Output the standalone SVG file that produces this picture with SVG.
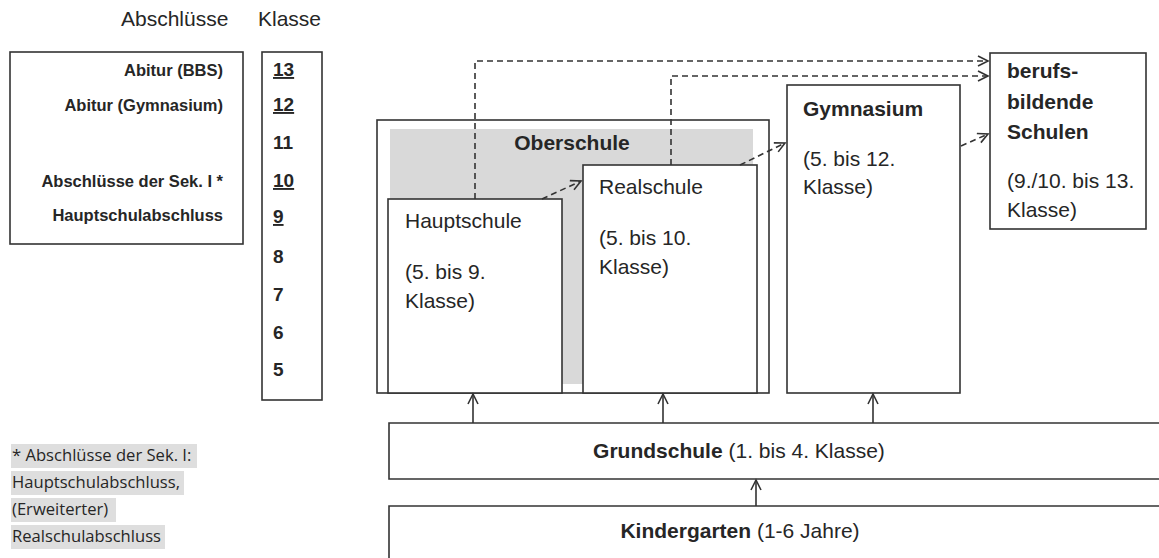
<svg xmlns="http://www.w3.org/2000/svg" width="1159" height="558" viewBox="0 0 1159 558">
<style>
text{font-family:"Liberation Sans",Arial,sans-serif;fill:#262626}
.box{fill:#fff;stroke:#333;stroke-width:1.6}
.r{font-size:21px}
.b{font-size:21px;font-weight:bold}
.lbl{font-size:16.5px;font-weight:bold;text-anchor:end}
.num{font-size:19px;font-weight:bold}
.u{text-decoration:underline}
.fn{font-family:"Open Sans","Noto Sans",sans-serif;font-size:16.6px}
.hl{fill:#dedede}
.dash{fill:none;stroke:#333;stroke-width:1.6;stroke-dasharray:6 4}
.solid{fill:none;stroke:#333;stroke-width:1.6}
</style>
<defs>
<marker id="ah" markerUnits="userSpaceOnUse" markerWidth="14" markerHeight="14" refX="11" refY="6" orient="auto">
<path d="M1,1 L11,6 L1,11" fill="none" stroke="#333" stroke-width="1.6"/>
</marker>
</defs>

<g id="headers">
<text class="r" x="121" y="26">Abschlüsse</text>
<text class="r" x="258" y="26">Klasse</text>
</g>

<g id="abschluesse">
<rect class="box" x="10" y="52" width="233" height="192"/>
<text class="lbl" x="223" y="76">Abitur (BBS)</text>
<text class="lbl" x="223" y="111">Abitur (Gymnasium)</text>
<text class="lbl" x="223" y="187">Abschlüsse der Sek. I *</text>
<text class="lbl" x="223" y="221">Hauptschulabschluss</text>
</g>

<g id="klassen">
<rect class="box" x="262" y="52" width="60" height="348"/>
<text class="num u" x="273" y="76">13</text>
<text class="num u" x="273" y="111">12</text>
<text class="num" x="273" y="149">11</text>
<text class="num u" x="273" y="187">10</text>
<text class="num u" x="273" y="223">9</text>
<text class="num" x="273" y="263">8</text>
<text class="num" x="273" y="301">7</text>
<text class="num" x="273" y="339">6</text>
<text class="num" x="273" y="376">5</text>
</g>

<g id="footnote">
<rect class="hl" x="11" y="444" width="186" height="24"/>
<rect class="hl" x="11" y="471" width="173" height="24"/>
<rect class="hl" x="11" y="498" width="105" height="24"/>
<rect class="hl" x="11" y="525" width="154" height="24"/>
<text class="fn" x="12" y="461">* Abschlüsse der Sek. I:</text>
<text class="fn" x="12" y="488">Hauptschulabschluss,</text>
<text class="fn" x="12" y="515">(Erweiterter)</text>
<text class="fn" x="12" y="542">Realschulabschluss</text>
</g>

<g id="oberschule">
<rect class="box" x="377" y="120" width="392" height="273"/>
<rect x="390" y="129" width="363" height="255" fill="#d9d9d9"/>
<text class="b" x="572" y="150" text-anchor="middle" font-size="20">Oberschule</text>
</g>

<g id="hauptschule">
<rect class="box" x="388" y="199" width="174" height="194"/>
<text class="r" x="405" y="228">Hauptschule</text>
<text class="r" x="405" y="279">(5. bis 9.</text>
<text class="r" x="405" y="308">Klasse)</text>
</g>

<g id="realschule">
<rect class="box" x="583" y="165" width="174" height="228"/>
<text class="r" x="599" y="194">Realschule</text>
<text class="r" x="599" y="245">(5. bis 10.</text>
<text class="r" x="599" y="274">Klasse)</text>
</g>

<g id="gymnasium">
<rect class="box" x="787" y="85" width="173" height="308"/>
<text class="b" x="803" y="116">Gymnasium</text>
<text class="r" x="803" y="166">(5. bis 12.</text>
<text class="r" x="803" y="194">Klasse)</text>
</g>

<g id="bbs">
<rect class="box" x="990" y="53" width="156" height="176"/>
<text class="b" x="1007" y="78">berufs-</text>
<text class="b" x="1007" y="109">bildende</text>
<text class="b" x="1007" y="139">Schulen</text>
<text class="r" x="1007" y="188">(9./10. bis 13.</text>
<text class="r" x="1007" y="217">Klasse)</text>
</g>

<g id="grundschule">
<path class="box" d="M1160,423 H389 V479 H1160"/>
<text class="r" x="739" y="458" text-anchor="middle"><tspan font-weight="bold">Grundschule</tspan> (1. bis 4. Klasse)</text>
</g>

<g id="kindergarten">
<path class="box" d="M1160,506 H389 V560"/>
<text class="r" x="740" y="538" text-anchor="middle"><tspan font-weight="bold">Kindergarten</tspan> (1-6 Jahre)</text>
</g>

<g id="connectors">
<path class="dash" d="M475,199 V61 H988" marker-end="url(#ah)"/>
<path class="dash" d="M671,165 V76 H988" marker-end="url(#ah)"/>
<path class="dash" d="M542,199 L581,181" marker-end="url(#ah)"/>
<path class="dash" d="M740,165 L785,143" marker-end="url(#ah)"/>
<path class="dash" d="M961,146 L988,134" marker-end="url(#ah)"/>
<path class="solid" d="M473,423 V394" marker-end="url(#ah)"/>
<path class="solid" d="M663,423 V394" marker-end="url(#ah)"/>
<path class="solid" d="M873,423 V394" marker-end="url(#ah)"/>
<path class="solid" d="M756,506 V480" marker-end="url(#ah)"/>
</g>
</svg>
